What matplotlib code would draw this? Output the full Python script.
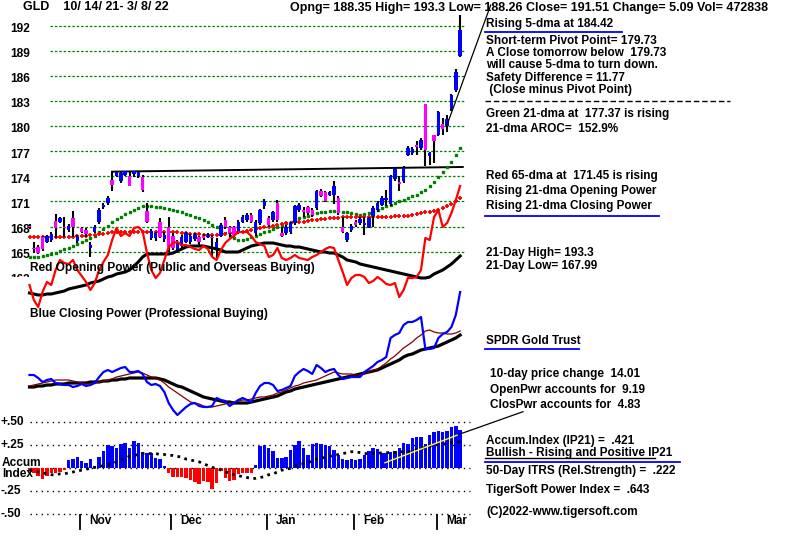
import matplotlib
matplotlib.use("Agg")
import matplotlib.pyplot as plt
from matplotlib.lines import Line2D

# ---------------- data (100 trading days, 10/14/21 - 3/8/22) ----------------
opens = [168.1, 165.5, 165.6, 166.7, 166.2, 166.4, 168.7, 168.6, 168.0, 167.6,
         169.0, 166.3, 167.8, 167.6, 165.4, 167.4, 168.5, 170.3, 170.8, 173.6,
         174.0, 173.4, 174.2, 174.0, 174.3, 174.1, 173.9, 169.9, 166.6, 166.6,
         168.6, 166.5, 167.9, 166.9, 165.3, 165.7, 166.2, 166.1, 166.5, 166.7,
         166.9, 166.8, 166.8, 165.3, 166.9, 168.8, 167.9, 167.9, 167.3, 168.6,
         168.8, 169.4, 167.2, 168.4, 170.4, 169.0, 168.8, 170.8, 167.2, 167.2,
         167.3, 168.4, 170.0, 170.0, 170.3, 170.0, 170.2, 172.2, 172.1, 171.8,
         171.8, 171.4, 168.0, 166.4, 167.6, 168.6, 168.4, 168.2, 168.0, 169.3,
         170.0, 170.6, 171.2, 170.7, 173.7, 173.3, 173.4, 176.6, 176.8, 177.8,
         177.4, 182.6, 176.4, 179.0, 179.0, 180.2, 180.0, 182.0, 184.3, 188.35]
highs = [168.3, 166.2, 165.8, 166.9, 167.0, 167.3, 169.5, 169.1, 169.2, 168.3,
         169.9, 167.0, 168.0, 167.8, 166.2, 168.2, 170.2, 170.8, 171.6, 174.6,
         174.7, 174.7, 174.7, 174.6, 174.7, 174.6, 174.2, 170.8, 167.7, 167.4,
         169.0, 167.3, 169.1, 167.2, 166.4, 167.0, 167.4, 167.1, 167.2, 166.9,
         167.1, 167.2, 167.0, 166.6, 168.4, 169.1, 168.1, 168.1, 168.8, 169.4,
         169.6, 169.6, 168.8, 170.1, 171.3, 169.3, 169.9, 171.2, 167.9, 168.2,
         168.6, 170.6, 170.8, 170.3, 170.5, 170.2, 172.4, 172.5, 172.3, 172.3,
         173.5, 171.6, 169.2, 167.4, 168.3, 168.8, 169.1, 169.2, 169.2, 170.4,
         171.0, 171.6, 172.4, 174.2, 175.1, 174.0, 175.2, 177.6, 177.5, 178.2,
         178.6, 182.6, 176.9, 179.0, 181.8, 181.0, 181.3, 183.8, 186.8, 193.3]
lows = [167.7, 164.9, 164.7, 165.1, 166.0, 166.1, 166.6, 168.4, 166.7, 167.4,
        166.7, 166.0, 167.2, 166.8, 164.4, 167.2, 168.3, 170.1, 170.6, 172.2,
        173.9, 173.2, 174.0, 172.8, 173.9, 173.8, 172.1, 168.4, 166.4, 166.3,
        166.6, 166.2, 165.0, 165.2, 164.9, 165.5, 166.0, 165.9, 166.3, 165.8,
        166.4, 166.6, 164.5, 164.2, 166.7, 167.7, 166.8, 166.8, 167.1, 168.4,
        168.6, 168.4, 166.9, 168.2, 170.1, 168.0, 168.6, 168.6, 166.8, 167.0,
        167.1, 168.2, 169.8, 169.2, 169.4, 169.2, 170.0, 171.5, 170.9, 171.6,
        170.7, 169.4, 167.2, 166.1, 167.4, 168.0, 168.2, 167.0, 167.8, 167.99,
        169.8, 170.4, 170.4, 170.5, 173.5, 172.3, 173.2, 176.4, 176.6, 176.6,
        177.2, 175.2, 175.3, 175.6, 178.8, 179.0, 179.3, 181.8, 184.1, 188.26]
closes = [167.9, 165.3, 164.9, 165.3, 166.9, 167.1, 167.8, 169.0, 167.8, 168.1,
          168.0, 166.8, 167.4, 167.1, 165.8, 168.0, 170.0, 170.6, 171.4, 173.0,
          174.5, 174.4, 174.6, 172.9, 174.6, 174.5, 172.4, 168.6, 167.5, 167.2,
          166.8, 167.0, 165.6, 165.5, 166.1, 166.8, 167.2, 166.9, 167.0, 166.1,
          166.6, 167.0, 166.6, 166.2, 168.2, 167.9, 167.2, 167.0, 168.6, 169.2,
          169.4, 168.6, 168.6, 170.0, 171.0, 168.2, 169.7, 168.8, 166.9, 168.0,
          168.4, 170.4, 170.6, 169.8, 169.6, 169.4, 172.2, 171.7, 171.1, 172.1,
          172.8, 169.6, 167.4, 167.2, 168.1, 168.2, 168.9, 168.4, 169.0, 170.2,
          170.8, 171.4, 171.3, 174.0, 174.9, 173.1, 175.0, 177.4, 177.3, 177.5,
          178.4, 177.2, 176.8, 178.2, 181.7, 179.7, 180.8, 183.7, 186.42, 191.51]

ma21 = [164.4, 164.4, 164.4, 164.5, 164.6, 164.7, 164.9, 165.1, 165.3, 165.5,
        165.7, 165.9, 166.2, 166.4, 166.6, 166.9, 167.3, 167.7, 168.1, 168.5,
        168.9, 169.2, 169.5, 169.8, 170.0, 170.2, 170.4, 170.4, 170.4, 170.3,
        170.3, 170.2, 170.1, 170.0, 169.9, 169.7, 169.5, 169.4, 169.2, 169.0,
        168.8, 168.5, 168.2, 167.9, 167.5, 167.2, 166.9, 166.6, 166.4, 166.4,
        166.5, 166.7, 166.9, 167.1, 167.3, 167.5, 167.7, 168.0, 168.2, 168.4,
        168.6, 168.8, 169.0, 169.2, 169.3, 169.5, 169.6, 169.7, 169.8, 169.9,
        169.9, 169.9, 169.8, 169.7, 169.6, 169.5, 169.4, 169.5, 169.6, 169.8,
        170.0, 170.2, 170.4, 170.6, 170.8, 171.0, 171.2, 171.4, 171.6, 171.8,
        172.1, 172.4, 172.8, 173.3, 173.9, 174.5, 175.1, 175.7, 176.5, 177.37]
ma65 = [166.8, 166.8, 166.8, 166.8, 166.7, 166.7, 166.7, 166.7, 166.8, 166.8,
        166.8, 166.9, 166.9, 166.9, 167.0, 167.0, 167.1, 167.1, 167.2, 167.3,
        167.3, 167.3, 167.3, 167.4, 167.4, 167.4, 167.4, 167.4, 167.4, 167.4,
        167.4, 167.3, 167.3, 167.3, 167.3, 167.2, 167.2, 167.1, 167.1, 167.1,
        167.0, 167.0, 167.0, 167.0, 167.1, 167.1, 167.2, 167.3, 167.3, 167.4,
        167.5, 167.6, 167.7, 167.8, 167.9, 168.0, 168.1, 168.2, 168.3, 168.4,
        168.4, 168.5, 168.6, 168.6, 168.7, 168.8, 168.8, 168.9, 168.9, 169.0,
        169.0, 169.0, 169.1, 169.1, 169.1, 169.1, 169.1, 169.2, 169.2, 169.2,
        169.2, 169.2, 169.2, 169.2, 169.3, 169.3, 169.3, 169.3, 169.4, 169.5,
        169.6, 169.7, 169.8, 169.9, 170.0, 170.2, 170.4, 170.7, 171.0, 171.45]

# Opening Power (red) and its moving average, arbitrary units
open_power = [215, 200, 193, 208, 218, 215, 230, 240, 237, 236,
              240, 230, 224, 218, 210, 217, 230, 238, 245, 260,
              272, 264, 267, 264, 272, 273, 269, 247, 230, 222,
              227, 240, 253, 257, 258, 255, 255, 253, 251, 250,
              254, 251, 243, 240, 250, 257, 261, 264, 268, 268,
              268, 264, 258, 256, 254, 243, 245, 252, 242, 240,
              242, 245, 242, 241, 240, 243, 245, 248, 251, 253,
              252, 240, 228, 215, 222, 225, 225, 223, 217, 219,
              223, 220, 216, 215, 217, 203, 210, 222, 222, 223,
              230, 262, 260, 283, 290, 273, 277, 287, 300, 314]
open_power_ma = [207, 206, 205, 205, 206, 206, 207, 208, 209, 211,
                 212, 213, 214, 215, 217, 218, 219, 221, 223, 224,
                 226, 227, 228, 230, 234, 238, 243, 246, 246, 246,
                 246, 246, 246, 247, 249, 251, 253, 254, 254, 254,
                 254, 253, 252, 251, 250, 248, 248, 248, 248, 250,
                 252, 254, 255, 256, 257, 257, 257, 256, 255, 254,
                 254, 253, 253, 252, 251, 250, 249, 248, 248, 247,
                 247, 245, 243, 240, 239, 238, 236, 235, 234, 233,
                 232, 231, 230, 229, 228, 227, 226, 225, 224, 223,
                 222, 222, 223, 226, 228, 230, 233, 236, 240, 244]

# Closing Power (blue), short MA (dark red) and long MA (black)
close_power = [125, 125, 122, 118, 120, 121, 117, 116, 115, 115,
               113, 114, 116, 114, 115, 117, 123, 128, 130, 128,
               130, 132, 133, 128, 128, 129, 126, 118, 115, 116,
               114, 108, 97, 90, 85, 89, 93, 96, 97, 94,
               93, 93, 94, 102, 100, 99, 94, 97, 100, 102,
               100, 98, 107, 114, 117, 117, 115, 109, 110, 112,
               114, 124, 128, 131, 129, 126, 135, 132, 128, 130,
               131, 125, 121, 122, 123, 123, 123, 128, 131, 134,
               138, 140, 143, 162, 165, 167, 175, 178, 178, 180,
               183, 151, 151, 152, 162, 166, 168, 173, 185, 208]
close_power_ma = [114, 115, 116, 117, 118, 119, 120, 120, 120, 120,
                  119, 118, 117, 116, 116, 117, 118, 119, 120, 121,
                  123, 124, 125, 126, 127, 128, 127, 125, 123, 122,
                  120, 117, 113, 110, 107, 104, 101, 98, 97, 96,
                  94, 93, 93, 94, 95, 96, 97, 98, 99, 100,
                  100, 101, 102, 103, 103, 104, 105, 107, 108, 110,
                  112, 114, 115, 117, 118, 119, 120, 122, 124, 126,
                  128, 127, 126, 126, 126, 125, 125, 126, 128, 130,
                  131, 134, 137, 141, 144, 148, 152, 155, 158, 162,
                  165, 169, 170, 168, 167, 167, 166, 166, 167, 169]
close_power_ma2 = [113, 113, 114, 114, 115, 115, 116, 116, 116, 117,
                   117, 117, 117, 117, 118, 118, 118, 119, 119, 120,
                   120, 121, 121, 122, 122, 122, 122, 122, 122, 122,
                   121, 120, 118, 116, 114, 113, 111, 109, 107, 105,
                   103, 102, 101, 100, 99, 98, 98, 97, 97, 97,
                   97, 98, 99, 100, 101, 102, 103, 104, 106, 108,
                   109, 111, 112, 113, 114, 115, 116, 117, 118, 119,
                   120, 121, 122, 123, 124, 125, 126, 127, 128, 129,
                   130, 132, 134, 136, 138, 140, 143, 145, 146, 148,
                   150, 151, 152, 153, 154, 156, 158, 160, 162, 165]

# Accumulation Index (IP21) and its moving average
ip21 = [-0.03, -0.05, -0.08, -0.12, -0.08, -0.05, -0.05, -0.04, -0.02, 0.09,
        0.10, 0.12, 0.08, 0.06, 0.10, 0.02, 0.12, 0.19, 0.25, 0.24,
        0.22, 0.26, 0.28, 0.22, 0.30, 0.27, 0.18, 0.17, 0.17, 0.11,
        0.10, 0.02, -0.05, -0.09, -0.09, -0.09, -0.10, -0.13, -0.15, -0.17,
        -0.14, -0.15, -0.22, -0.16, -0.03, -0.11, -0.14, -0.13, -0.06, -0.05,
        -0.05, -0.05, 0.04, 0.24, 0.25, 0.22, 0.19, 0.11, 0.11, 0.12,
        0.20, 0.25, 0.30, 0.22, 0.14, 0.26, 0.27, 0.26, 0.25, 0.24,
        0.20, 0.15, 0.10, 0.09, 0.10, 0.09, 0.10, 0.15, 0.19, 0.22,
        0.21, 0.17, 0.17, 0.18, 0.19, 0.22, 0.28, 0.26, 0.33, 0.34,
        0.34, 0.26, 0.36, 0.40, 0.41, 0.40, 0.41, 0.45, 0.46, 0.421]
ip21_ma = [-0.02, -0.03, -0.04, -0.05, -0.06, -0.07, -0.07, -0.06, -0.06, -0.05,
           -0.04, -0.03, -0.02, -0.01, 0.00, 0.01, 0.02, 0.03, 0.04, 0.05,
           0.07, 0.09, 0.11, 0.13, 0.14, 0.15, 0.16, 0.16, 0.16, 0.16,
           0.15, 0.15, 0.14, 0.14, 0.13, 0.12, 0.10, 0.09, 0.08, 0.07,
           0.05, 0.03, 0.01, 0.00, -0.02, -0.04, -0.05, -0.07, -0.08, -0.09,
           -0.10, -0.11, -0.11, -0.10, -0.09, -0.07, -0.06, -0.04, -0.02, -0.01,
           0.00, 0.02, 0.04, 0.05, 0.06, 0.08, 0.10, 0.11, 0.12, 0.13,
           0.14, 0.15, 0.16, 0.17, 0.18, 0.18, 0.17, 0.16, 0.16, 0.16,
           0.16, 0.17, 0.17, 0.17, 0.17, 0.18, 0.18, 0.18, 0.19, 0.20,
           0.21, 0.23, 0.24, 0.25, 0.26, 0.26, 0.27, 0.28, 0.28, 0.29]

price_levels = [192, 189, 186, 183, 180, 177, 174, 171, 168, 165]
month_names = ["Nov", "Dec", "Jan", "Feb", "Mar"]
month_first = [12, 33, 55, 75, 94]
ai_levels = [0.50, 0.25, 0.0, -0.25, -0.50]
ai_labels = ["+.50", "+.25", "", "-.25", "-.50"]
resist_x = [19, 99.6]
resist_y = [174.56, 175.12]
ip21_trend_x = [81.7, 98.3]
ip21_trend_y = [0.06, 0.36]

# ---------------- figure ----------------
W, H = 800, 536
fig = plt.figure(figsize=(W / 100, H / 100), dpi=100)
fig.patch.set_facecolor("white")
FONT = "Liberation Sans"
days = list(range(len(closes)))
step = 4.35
x0 = 29.5
xlim = (-x0 / step, (W - x0) / step)


def overlay(rect, ylim):
    ax = fig.add_axes(rect)
    ax.set_xlim(*xlim)
    ax.set_ylim(*ylim)
    ax.axis("off")
    ax.patch.set_alpha(0)
    return ax


def put(x, y, s, **kw):
    kw.setdefault("fontsize", 8.5)
    kw.setdefault("fontweight", "bold")
    kw.setdefault("family", FONT)
    fig.text(x / W, 1 - y / H, s, va="center", ha="left", **kw)


def fline(xs, ys, **kw):
    fig.add_artist(Line2D([x / W for x in xs], [1 - y / H for y in ys],
                          transform=fig.transFigure, **kw))


# price panel (clipped at the bottom, like the original)
pbot = 277
ppx = 8.37
ax_p = overlay([0, 1 - pbot / H, 1, pbot / H],
               (192 - (pbot - 25.7) / ppx, 192 + 25.7 / ppx))
for lv in price_levels:
    ax_p.plot([4.7, 100.1], [lv, lv], color="#008000", lw=0.9,
              ls=(0, (2, 1.5)), zorder=1)
for lv in price_levels + [162]:
    ax_p.text(-4.5, lv - 0.4, str(lv), fontsize=8.6, fontweight="bold",
              family=FONT, va="center", ha="left", clip_on=True)

ax_p.plot(resist_x, resist_y, color="black", lw=1.4, zorder=2)
ax_p.plot(days, ma21, ls="none", marker="s", ms=1.6, color="#008000", zorder=3)
ax_p.plot(days, ma65, ls="none", marker="+", ms=3.4, mew=1.3, color="#ff0000", zorder=3)

ax_p.vlines(days, lows, highs, color="black", lw=1.5, zorder=4)
for d, o, c in zip(days, opens, closes):
    col = "#0000ff" if c >= o else "#ff00ff"
    lo, hi = min(o, c), max(o, c)
    hgt = max(hi - lo, 0.18)
    ax_p.bar(d, hgt, bottom=lo, width=0.8, color=col, zorder=5, linewidth=0)

# power lines
ax_w = overlay([0, 0, 1, 1], (-36, 500))
ax_w.plot(days, open_power, color="#ff0000", lw=1.6, zorder=3)
ax_w.plot(days, open_power_ma, color="black", lw=2.2, zorder=2)
ax_w.plot(days, close_power_ma2, color="black", lw=2.3, zorder=2)
ax_w.plot(days, close_power_ma, color="#800000", lw=0.9, zorder=3)
ax_w.plot(days, close_power, color="#0000ff", lw=1.6, zorder=4)

# accumulation index
ax_a = overlay([0, 0, 1, 1], ((468.3 - H) / 92, 468.3 / 92))
for lv in ai_levels:
    ax_a.plot([0.2, 101.3], [lv, lv], color="black", lw=1, ls=(0, (1, 3)))
ax_a.bar(days, ip21, width=0.8, linewidth=0,
         color=["#0000ff" if v >= 0 else "#ff0000" for v in ip21], zorder=2)
ax_a.plot(days, ip21_ma, color="black", lw=2, ls=(0, (1, 1.6)), zorder=3)
ax_a.plot(ip21_trend_x, ip21_trend_y, color="#ffff00", lw=1, zorder=4)
for lv, lab in zip(ai_levels, ai_labels):
    if lab:
        ax_a.text(-6.6, lv, lab, fontsize=8.6, fontweight="bold", family=FONT,
                  va="center", ha="left")
for m, d in zip(month_names, month_first):
    ax_a.plot([d - 0.4, d - 0.4], [-0.51, -0.665], color="black", lw=1.3)
    ax_a.text(d + 1.7, -0.57, m, fontsize=8.6, fontweight="bold", family=FONT,
              va="center", ha="left")
put(2, 463, "Accum", fontsize=8.6)
put(2, 474, "Index", fontsize=8.6)

# titles and panel captions
put(23, 7.5, "GLD    10/ 14/ 21- 3/ 8/ 22", fontsize=9.0)
put(290, 7.5, "Opng= 188.35 High= 193.3 Low= 188.26 Close= 191.51 "
    "Change= 5.09 Vol= 472838", fontsize=9.0)
put(30, 268.5, "Red Opening Power (Public and Overseas Buying)", fontsize=8.6)
put(30, 314.5, "Blue Closing Power (Professional Buying)", fontsize=8.6)

# right-hand commentary
right = [
    (486, 24.5, "Rising 5-dma at 184.42"),
    (486, 41, "Short-term Pivot Point= 179.73"),
    (486, 53, "A Close tomorrow below  179.73"),
    (486, 64.5, "will cause 5-dma to turn down."),
    (486, 78, "Safety Difference = 11.77"),
    (486, 89.5, " (Close minus Pivot Point)"),
    (486, 114.5, "Green 21-dma at  177.37 is rising"),
    (486, 128.5, "21-dma AROC=  152.9%"),
    (486, 175.5, "Red 65-dma at  171.45 is rising"),
    (486, 191, "Rising 21-dma Opening Power"),
    (486, 206.5, "Rising 21-dma Closing Power"),
    (486, 253, "21-Day High= 193.3"),
    (486, 266, "21-Day Low= 167.99"),
    (486, 341.5, "SPDR Gold Trust"),
    (490, 374.5, "10-day price change  14.01"),
    (490, 389.5, "OpenPwr accounts for  9.19"),
    (490, 405, "ClosPwr accounts for  4.83"),
    (486, 441, "Accum.Index (IP21) =  .421"),
    (486, 453, "Bullish - Rising and Positive IP21"),
    (486, 471, "50-Day ITRS (Rel.Strength) =  .222"),
    (486, 489.5, "TigerSoft Power Index =  .643"),
    (486, 511.5, "(C)2022-www.tigersoft.com"),
]
for x, y, s in right:
    put(x, y, s)

fline([485, 622], [32, 32], color="#0000ff", lw=1.3)
fline([485, 659], [215.5, 215.5], color="#0000ff", lw=1.3)
fline([485, 579], [348.5, 348.5], color="#0000ff", lw=1.3)
fline([485, 655], [458.3, 458.3], color="black", lw=1)
fline([485, 680], [461.8, 461.8], color="#0000ff", lw=1.3)
fline([485, 730], [101, 101], color="black", lw=1, dashes=(4, 2))
fline([447, 490.7], [125, 5], color="black", lw=0.9)
fline([460, 523], [434, 411.7], color="black", lw=0.9)

fig.savefig("out.png", dpi=100, facecolor="white")
